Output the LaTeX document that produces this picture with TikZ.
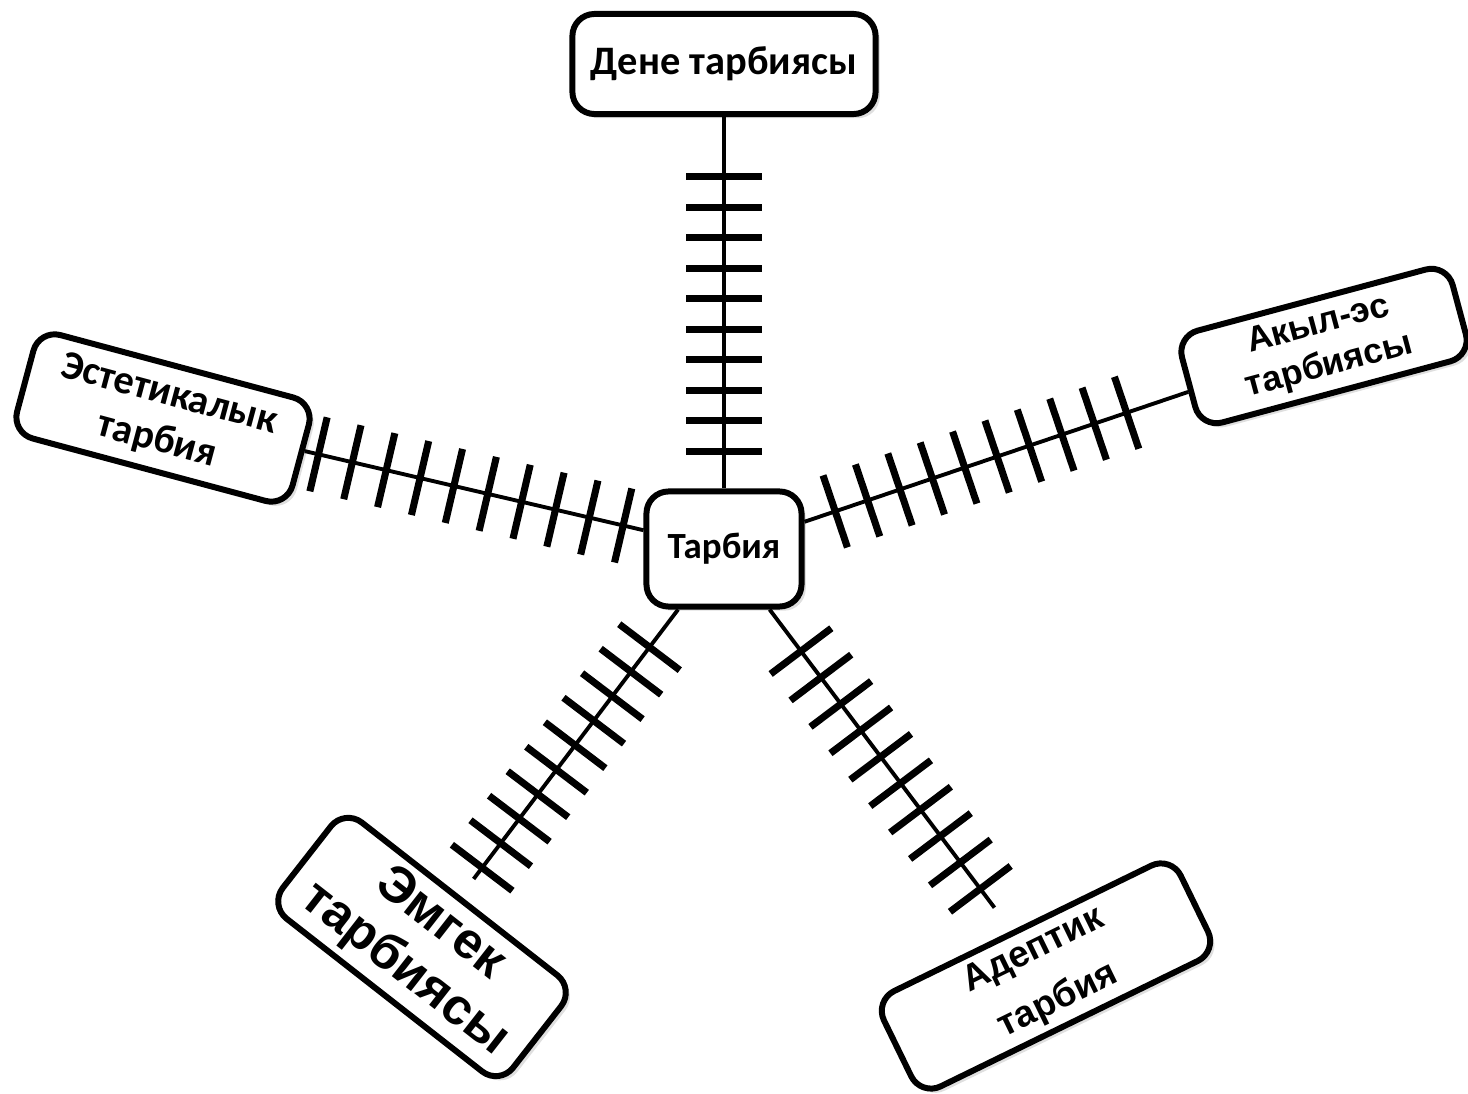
\documentclass[tikz,border=0pt]{standalone}
\usepackage{fontspec}
\usepackage{tikz}
\usetikzlibrary{positioning,calc,shadows,decorations.markings}
\newfontfamily\calfont{Carlito}
\newfontfamily\arialfont{Liberation Sans}

\begin{document}
\begin{tikzpicture}[x=0.01cm, y=-0.01cm,
    box/.style={draw, line width=1.7pt, rounded corners=0.22cm, fill=white, align=center, inner sep=0pt,
      drop shadow={shadow xshift=1.2pt, shadow yshift=-1.2pt, opacity=0.25}},
    rail/.style n args={3}{line width=1.1pt, postaction={decorate},
      decoration={markings, mark=between positions #1 and #2 step #3 with {\draw[line width=2pt] (0,-38)--(0,38);}}},
  ]
  \useasboundingbox (0,0) rectangle (1468,1094);

  \node[box, minimum width=1.55cm, minimum height=1.15cm, font=\calfont\bfseries\fontsize{10.5}{12.6}\selectfont] (tarbiya) at (724,549) {Тарбия};
  \node[box, minimum width=3.03cm, minimum height=1cm, font=\calfont\bfseries\fontsize{11.5}{13.8}\selectfont] (dene) at (724,64) {Дене тарбиясы};
  \node[box, minimum width=2.8cm, minimum height=0.95cm, rotate=15, font=\arialfont\bfseries\fontsize{10}{12}\selectfont] (akyl) at (1324,346) {Акыл-эс\\тарбиясы};
  \node[box, minimum width=2.85cm, minimum height=1.07cm, rotate=-15, font=\calfont\bfseries\fontsize{11.5}{13.5}\selectfont] (estet) at (163,418) {Эстетикалык\\тарбия};
  \node[box, minimum width=2.92cm, minimum height=1.22cm, rotate=-38, font=\arialfont\bfseries\fontsize{14.5}{16.5}\selectfont] (emgek) at (422,947) {Эмгек\\тарбиясы};
  \node[box, minimum width=3.3cm, minimum height=1.06cm, rotate=26, font=\arialfont\bfseries\fontsize{10.5}{16}\selectfont] (adep) at (1046,976) {Адептик\\тарбия};

  \coordinate (emgek-end) at ($(emgek)!0.171!(tarbiya)$);
  \coordinate (adep-end) at ($(adep)!0.16!(tarbiya)$);

  \draw[rail={0.10}{0.845}{0.0822}] (tarbiya) -- (dene);
  \draw[rail={0.08}{0.845}{0.0844}] (tarbiya) -- (akyl);
  \draw[rail={0.06}{0.965}{0.1}] (tarbiya) -- (estet);
  \draw[rail={0.14}{0.965}{0.0911}] (tarbiya) -- (emgek-end);
  \draw[rail={0.14}{0.945}{0.0889}] (tarbiya) -- (adep-end);
\end{tikzpicture}
\end{document}
